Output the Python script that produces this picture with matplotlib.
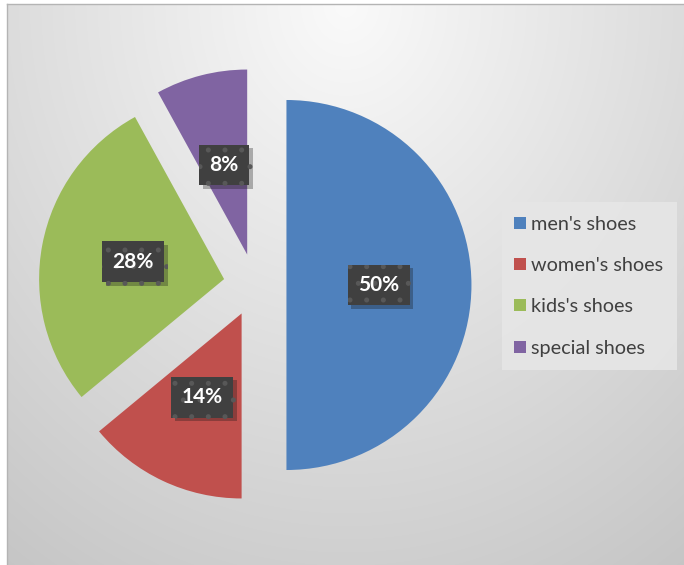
import numpy as np
import matplotlib
matplotlib.use("Agg")
import matplotlib.pyplot as plt
import matplotlib.patheffects as pe
from matplotlib.lines import Line2D

# 数据
categories = ["men's shoes", "women's shoes", "kids's shoes", "special shoes"]
shares = [50, 14, 28, 8]
colors = ['#4F81BD', '#C0504D', '#9BBB59', '#8064A2']

W, H = 684, 565
fig = plt.figure(figsize=(W / 100, H / 100), dpi=100)
fig.patch.set_facecolor('white')
plt.rcParams['hatch.linewidth'] = 1.2

# 背景渐变区域 (图表区)
x0, y0 = 7, 4
bg_ax = fig.add_axes([x0 / W, 0, (W - x0) / W, (H - y0) / H], zorder=0)
gw, gh = W - x0, H - y0
xx, yy = np.meshgrid(np.arange(gw), np.arange(gh))
dx = (xx - gw * 0.5) / (gw * 0.5)
dy = yy / gh
v = 250 - np.sqrt((30 * dx) ** 2 + (43 * dy) ** 2)
v = np.clip(v, 0, 255) / 255.0
img = np.dstack([v, v, v])
bg_ax.imshow(img, aspect='auto', extent=[0, 1, 0, 1], origin='upper')
bg_ax.set_xlim(0, 1)
bg_ax.set_ylim(0, 1)
bg_ax.set_xticks([])
bg_ax.set_yticks([])
for s in ['right', 'bottom']:
    bg_ax.spines[s].set_visible(False)
for s in ['left', 'top']:
    bg_ax.spines[s].set_color('#b4b4b4')
    bg_ax.spines[s].set_linewidth(1.0)

# 饼图
r = 185
cx, cy = 255, 285
lim = 1.3
side = 2 * lim * r
ax = fig.add_axes([(cx - side / 2) / W, (H - cy - side / 2) / H, side / W, side / H], zorder=1)
ax.patch.set_alpha(0)
wedges, texts, autotexts = ax.pie(shares, colors=colors, startangle=90, counterclock=False,
                                  explode=[0.17] * 4, autopct='%.0f%%', pctdistance=0.5,
                                  wedgeprops=dict(linewidth=0),
                                  textprops=dict(color='white', fontsize=15, fontweight='bold',
                                                 family=['Lato', 'DejaVu Sans']))
ax.set_xlim(-lim, lim)
ax.set_ylim(-lim, lim)
ax.set_aspect('equal')
ax.axis('off')

for t in autotexts:
    t.set_bbox(dict(boxstyle='square,pad=0.5', facecolor='#404040', edgecolor='#585858',
                    hatch='.', linewidth=0))
    t.get_bbox_patch().set_path_effects([pe.SimplePatchShadow(offset=(2.5, -2.5), alpha=0.3),
                                         pe.Normal()])

# 图例
handles = [Line2D([], [], marker='s', linestyle='none', markersize=9,
                  markerfacecolor=c, markeredgewidth=0) for c in colors]
leg = fig.legend(handles, categories, loc='upper left',
                 bbox_to_anchor=(502 / W, 1 - 202 / H), frameon=True,
                 prop=dict(family=['Lato', 'DejaVu Sans'], size=14.3),
                 labelspacing=1.22, handlelength=0.45, handletextpad=0.3,
                 borderpad=0.7, borderaxespad=0, fancybox=False)
leg.get_frame().set_facecolor('#e6e6e6')
leg.get_frame().set_alpha(0.9)
leg.get_frame().set_linewidth(0)
for t in leg.get_texts():
    t.set_color('#404040')

fig.savefig('out.png', dpi=100)
